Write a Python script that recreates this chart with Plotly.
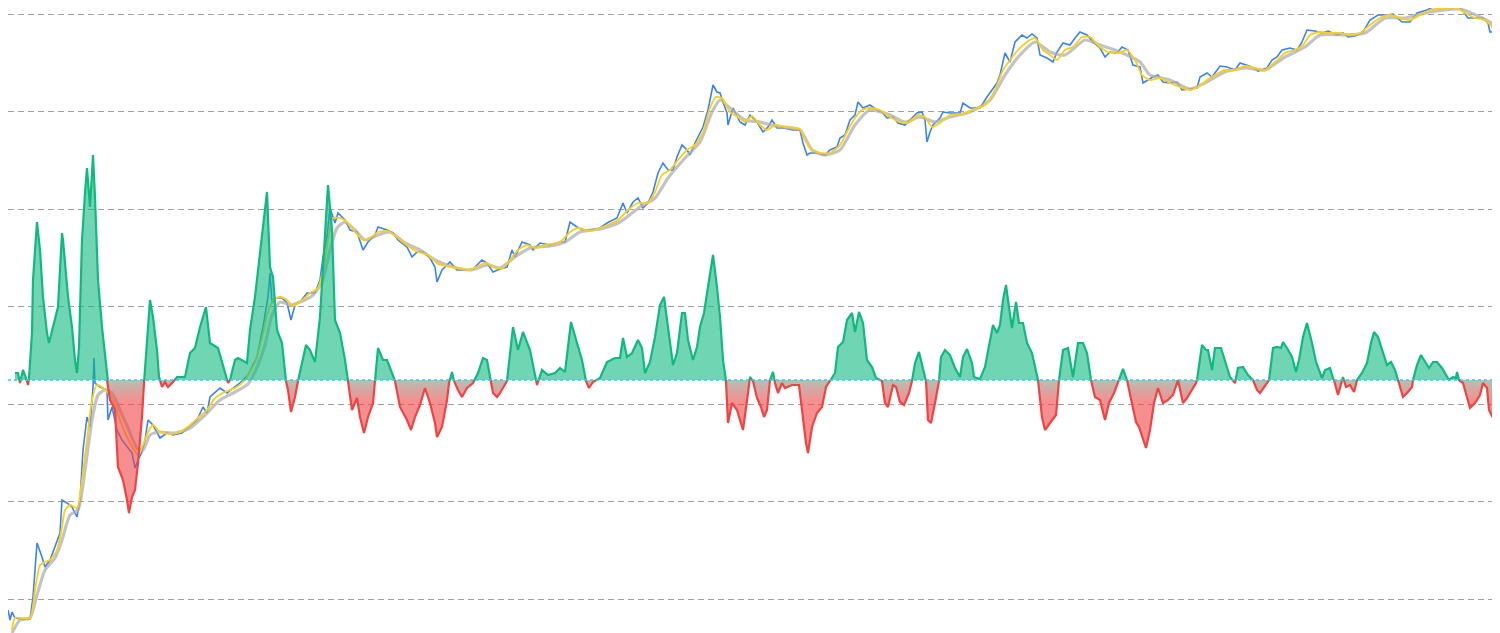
import plotly.graph_objects as go

# ---------------- data ----------------
price_x = [8, 10, 12, 15, 22, 30, 33, 35, 37, 42, 45, 50, 55, 60, 62, 67, 72, 77, 80, 82, 83, 87, 90, 93, 94, 95,
           100, 107, 108, 112, 117, 122, 127, 132, 135, 138, 142, 145, 148, 153, 160, 167, 173, 182, 188, 197, 203,
           207, 210, 220, 227, 233, 240, 248, 257, 263, 268, 270, 272, 275, 282, 287, 291, 295, 300, 307, 315, 320,
           323, 327, 330, 335, 338, 345, 350, 357, 363, 368, 375, 378, 387, 393, 398, 407, 412, 417, 423, 430, 435,
           437, 442, 450, 457, 467, 473, 482, 487, 493, 500, 507, 512, 515, 522, 530, 533, 540, 550, 560, 565, 570,
           577, 583, 590, 600, 607, 617, 623, 627, 633, 638, 643, 648, 653, 658, 663, 668, 673, 677, 682, 687, 690,
           695, 700, 703, 708, 713, 717, 720, 723, 727, 728, 733, 740, 745, 750, 757, 763, 768, 772, 777, 783, 793,
           800, 803, 807, 810, 817, 825, 830, 837, 840, 845, 850, 855, 858, 863, 870, 877, 882, 887, 893, 898, 905,
           910, 917, 922, 925, 927, 930, 933, 940, 943, 950, 960, 963, 970, 980, 987, 992, 997, 1000, 1005, 1010,
           1015, 1022, 1027, 1032, 1037, 1040, 1047, 1053, 1057, 1063, 1070, 1075, 1080, 1087, 1093, 1100, 1105,
           1110, 1117, 1122, 1128, 1133, 1140, 1143, 1148, 1153, 1158, 1163, 1170, 1177, 1182, 1188, 1197, 1200,
           1207, 1212, 1220, 1227, 1235, 1240, 1247, 1252, 1258, 1267, 1272, 1277, 1282, 1290, 1297, 1302, 1307,
           1315, 1322, 1328, 1337, 1343, 1348, 1355, 1363, 1370, 1378, 1387, 1393, 1402, 1410, 1417, 1427, 1433,
           1443, 1450, 1457, 1462, 1468, 1477, 1483, 1488, 1490, 1495]
price_y = [23, 13, 21, 15, 14, 14, 36, 60, 90, 76, 66, 73, 86, 100, 133, 130, 126, 116, 133, 160, 183, 216, 206, 246,
           275, 250, 246, 243, 213, 226, 203, 193, 186, 180, 165, 173, 181, 193, 213, 208, 195, 200, 198, 200, 205,
           213, 226, 220, 236, 245, 240, 245, 250, 258, 276, 306, 336, 360, 330, 335, 335, 330, 313, 328, 331, 340,
           340, 353, 376, 396, 425, 410, 420, 413, 403, 401, 383, 391, 398, 406, 403, 400, 393, 386, 376, 381, 381,
           375, 366, 351, 363, 371, 363, 363, 364, 373, 370, 361, 364, 366, 383, 376, 391, 388, 383, 390, 388, 391,
           391, 411, 406, 403, 403, 405, 410, 415, 430, 420, 431, 435, 425, 430, 441, 460, 470, 463, 463, 476, 488,
           483, 478, 490, 500, 506, 523, 548, 541, 540, 531, 520, 508, 525, 511, 508, 518, 511, 501, 506, 513, 505,
           505, 503, 503, 490, 478, 480, 480, 478, 483, 486, 495, 498, 513, 518, 531, 525, 528, 523, 521, 515, 516,
           510, 508, 513, 520, 521, 513, 491, 501, 508, 515, 521, 520, 520, 530, 525, 525, 536, 543, 550, 558, 580,
           571, 591, 598, 595, 599, 595, 578, 575, 571, 581, 590, 588, 595, 601, 598, 591, 585, 576, 581, 580, 586,
           583, 568, 566, 550, 553, 556, 558, 551, 550, 551, 543, 544, 545, 556, 560, 556, 567, 566, 563, 570, 568,
           566, 562, 565, 573, 576, 583, 585, 583, 591, 603, 602, 600, 602, 598, 600, 596, 597, 601, 613, 618, 618,
           619, 611, 611, 620, 623, 626, 625, 625, 627, 623, 615, 615, 615, 610, 601, 601]

ma_fast_x = [12, 15, 30, 35, 40, 45, 50, 57, 62, 65, 70, 77, 82, 87, 92, 97, 103, 110, 115, 120, 127, 133, 138, 143,
             148, 153, 160, 170, 180, 190, 200, 207, 215, 225, 235, 245, 255, 262, 268, 273, 280, 287, 293, 300, 310,
             318, 323, 328, 333, 340, 347, 355, 363, 370, 378, 388, 398, 408, 418, 428, 438, 447, 457, 470, 480, 487,
             495, 503, 510, 518, 527, 535, 545, 560, 570, 578, 590, 605, 618, 628, 638, 648, 655, 662, 670, 678, 687,
             695, 703, 710, 716, 722, 730, 738, 745, 752, 760, 767, 775, 785, 800, 805, 810, 820, 830, 840, 848, 855,
             862, 870, 880, 890, 900, 908, 918, 925, 932, 940, 950, 962, 972, 985, 995, 1003, 1010, 1018, 1027, 1035,
             1043, 1050, 1057, 1065, 1073, 1082, 1090, 1100, 1108, 1118, 1127, 1135, 1142, 1150, 1160, 1170, 1180,
             1190, 1198, 1207, 1215, 1225, 1235, 1245, 1255, 1265, 1275, 1285, 1295, 1303, 1310, 1320, 1330, 1340,
             1350, 1360, 1370, 1380, 1390, 1400, 1410, 1420, 1430, 1445, 1457, 1465, 1475, 1485, 1493]
ma_fast_y = [3, 15, 15, 43, 68, 71, 73, 83, 106, 123, 128, 125, 153, 193, 233, 248, 245, 238, 228, 213, 196, 185,
             178, 188, 201, 208, 201, 199, 201, 208, 217, 223, 235, 241, 245, 253, 271, 295, 321, 333, 336, 333, 327,
             331, 340, 345, 363, 393, 415, 415, 411, 401, 393, 395, 401, 402, 395, 387, 381, 378, 369, 367, 365, 363,
             368, 370, 365, 365, 373, 383, 388, 385, 388, 391, 401, 405, 402, 407, 413, 423, 430, 430, 441, 458, 463,
             473, 483, 488, 501, 525, 536, 535, 521, 516, 511, 517, 508, 503, 508, 506, 504, 493, 485, 480, 480, 488,
             503, 515, 523, 525, 523, 516, 511, 510, 518, 516, 506, 510, 518, 519, 523, 528, 543, 563, 573, 583, 591,
             595, 583, 578, 573, 583, 586, 596, 596, 586, 581, 580, 583, 573, 558, 553, 555, 550, 546, 543, 546, 553,
             558, 563, 563, 567, 565, 563, 571, 580, 583, 588, 598, 601, 600, 600, 598, 600, 608, 615, 618, 615, 613,
             618, 623, 625, 625, 620, 615, 613, 605]

ma_slow_x = [12, 20, 30, 37, 45, 55, 62, 70, 78, 85, 92, 98, 105, 112, 120, 128, 137, 143, 150, 160, 175, 190, 205,
             220, 235, 248, 258, 265, 272, 280, 290, 300, 312, 322, 330, 337, 345, 355, 365, 378, 390, 405, 420, 435,
             450, 470, 488, 500, 515, 530, 550, 565, 580, 600, 620, 640, 655, 668, 685, 700, 712, 720, 730, 745, 760,
             775, 800, 812, 825, 840, 855, 870, 890, 905, 920, 935, 950, 970, 990, 1005, 1020, 1035, 1050, 1065, 1085,
             1100, 1120, 1140, 1150, 1170, 1190, 1205, 1225, 1245, 1265, 1285, 1305, 1320, 1345, 1365, 1385, 1405,
             1430, 1460, 1480, 1495]
ma_slow_y = [0, 13, 15, 38, 63, 75, 93, 118, 123, 163, 213, 238, 243, 240, 223, 205, 185, 183, 198, 201, 200, 205,
             218, 233, 241, 249, 268, 288, 318, 331, 328, 331, 337, 351, 383, 405, 411, 403, 393, 398, 401, 390, 383,
             373, 367, 363, 368, 365, 376, 385, 387, 391, 401, 404, 411, 426, 435, 455, 475, 491, 521, 533, 525, 513,
             511, 507, 503, 483, 478, 483, 508, 523, 518, 511, 516, 511, 516, 521, 533, 558, 578, 591, 581, 578, 593,
             588, 581, 571, 558, 553, 544, 550, 561, 565, 563, 576, 586, 598, 598, 600, 615, 615, 621, 624, 616, 608]

osc_x = [15, 18, 20, 23, 26, 28, 29, 32, 33, 37, 40, 43, 47, 49, 53, 58, 62, 63, 68, 72, 75, 77, 79, 82, 85, 87, 90,
         93, 95, 98, 102, 105, 107, 110, 115, 118, 123, 127, 129, 132, 135, 138, 142, 144, 147, 150, 153, 157, 159,
         162, 165, 168, 173, 177, 185, 190, 195, 200, 206, 210, 218, 223, 228, 230, 235, 238, 247, 250, 255, 260,
         265, 267, 270, 273, 277, 282, 286, 288, 291, 295, 298, 303, 306, 310, 315, 320, 325, 328, 332, 335, 340,
         345, 348, 352, 357, 360, 364, 368, 373, 375, 378, 383, 387, 392, 395, 400, 407, 411, 415, 420, 425, 430,
         435, 437, 442, 447, 449, 452, 454, 458, 462, 467, 473, 478, 483, 487, 491, 493, 497, 500, 507, 513, 518,
         523, 530, 536, 537, 542, 548, 555, 560, 565, 571, 577, 582, 586, 589, 593, 600, 607, 615, 620, 623, 627,
         632, 638, 642, 645, 650, 655, 660, 664, 668, 673, 677, 682, 685, 688, 693, 697, 700, 704, 708, 713, 717,
         720, 723, 726, 728, 732, 737, 743, 748, 750, 753, 757, 761, 764, 767, 770, 773, 775, 778, 782, 785, 792,
         799, 803, 806, 808, 812, 817, 822, 826, 830, 835, 838, 843, 847, 852, 855, 859, 863, 867, 872, 876, 882,
         885, 888, 893, 896, 900, 904, 909, 912, 915, 919, 923, 926, 928, 931, 935, 939, 941, 945, 950, 955, 960,
         963, 967, 972, 974, 980, 985, 990, 993, 997, 1000, 1003, 1006, 1008, 1012, 1016, 1019, 1023, 1027, 1032,
         1035, 1038, 1042, 1045, 1050, 1056, 1059, 1063, 1068, 1073, 1078, 1083, 1087, 1091, 1095, 1100, 1105,
         1109, 1114, 1118, 1123, 1127, 1132, 1136, 1139, 1144, 1146, 1150, 1154, 1158, 1163, 1168, 1173, 1178,
         1183, 1187, 1192, 1196, 1197, 1202, 1206, 1208, 1212, 1215, 1221, 1225, 1230, 1235, 1238, 1243, 1248,
         1253, 1257, 1260, 1267, 1269, 1273, 1277, 1281, 1283, 1287, 1292, 1296, 1299, 1303, 1307, 1312, 1316,
         1322, 1325, 1330, 1334, 1338, 1342, 1343, 1346, 1350, 1354, 1357, 1362, 1367, 1371, 1374, 1378, 1382,
         1387, 1391, 1395, 1398, 1403, 1407, 1412, 1413, 1417, 1421, 1425, 1429, 1433, 1437, 1442, 1447, 1449,
         1453, 1456, 1457, 1459, 1463, 1467, 1470, 1475, 1480, 1483, 1487, 1489, 1493]
osc_y = [7, 7, -3, 10, 2, -5, 2, 47, 100, 158, 130, 83, 47, 37, 53, 73, 147, 140, 83, 53, 20, 7, 33, 140, 187, 212,
         173, 225, 183, 100, 53, 23, 0, -20, -30, -87, -100, -120, -133, -117, -110, -83, -37, -3, 40, 80, 63, 30, 3,
         -7, -2, -7, -2, 3, 3, 27, 32, 53, 73, 37, 32, 13, -3, 0, 20, 22, 17, 50, 83, 127, 167, 188, 113, 103, 50,
         37, -1, -10, -32, -17, -1, 23, 35, 30, 18, 63, 143, 195, 150, 60, 47, 20, -1, -30, -18, -37, -53, -37, -23,
         -1, 32, 20, 20, 7, -1, -27, -40, -50, -37, -25, -8, -23, -43, -57, -47, -20, -3, 8, -1, -10, -17, -8, -3,
         7, 22, 20, -1, -13, -17, -13, -1, 53, 30, 48, 30, -1, -5, 10, 5, 7, 12, 8, 58, 37, 20, -1, -8, -2, 2, 18,
         22, 22, 42, 23, 27, 40, 32, 7, 18, 43, 75, 83, 53, 15, 27, 67, 67, 40, 20, 33, 53, 67, 93, 125, 93, 63, 20,
         -1, -43, -23, -30, -50, -13, 3, -1, -18, -27, -37, -30, 0, 8, -3, -13, -3, -8, -5, -5, -40, -63, -73, -47,
         -33, -27, -7, -1, 7, 33, 38, 60, 67, 48, 68, 57, 20, 13, 2, -1, -23, -27, -5, -7, -22, -25, -13, -1, 17,
         28, 13, -1, -40, -43, -23, -1, 23, 30, 25, 12, 3, 23, 31, 17, 3, 1, 13, 40, 55, 47, 55, 80, 95, 80, 52, 78,
         57, 57, 37, 27, 13, 0, -37, -50, -43, -35, 0, 30, 32, 3, 37, 37, 27, 0, -17, -20, -40, -23, -13, -3, 11, 0,
         -23, -42, -47, -63, -68, -50, -23, -8, -23, -20, -15, 0, -23, -18, -10, -3, 0, 35, 30, 30, 10, 32, 32, 20,
         3, -3, 12, 13, 5, 0, -10, -13, -2, 0, 32, 33, 32, 38, 32, 23, 8, 20, 43, 57, 37, 18, 2, 10, 12, 0, -15, 0,
         3, -7, -5, -12, 0, 7, 17, 37, 48, 43, 30, 15, 18, 10, 0, -17, -13, -7, 0, 15, 25, 18, 12, 18, 18, 12, 3, 0,
         3, 2, 8, 0, -3, -17, -28, -23, -15, -3, -8, -30, -38]

# ---------------- figure ----------------
GREEN = "rgb(16,185,129)"
GREEN_FILL = "rgba(16,185,129,0.6)"
RED = "rgb(239,68,68)"

fig = go.Figure()

# price and moving averages (axis y)
fig.add_trace(go.Scatter(x=price_x, y=price_y, mode="lines", yaxis="y",
                         line=dict(color="#3b82f6", width=1.6), hoverinfo="skip", showlegend=False))
fig.add_trace(go.Scatter(x=ma_slow_x, y=ma_slow_y, mode="lines", yaxis="y",
                         line=dict(color="rgba(175,175,175,0.75)", width=3.2, shape="spline", smoothing=0.6),
                         hoverinfo="skip", showlegend=False))
fig.add_trace(go.Scatter(x=ma_fast_x, y=ma_fast_y, mode="lines", yaxis="y",
                         line=dict(color="#fcd012", width=1.8, shape="spline", smoothing=0.6),
                         hoverinfo="skip", showlegend=False))

# oscillator: positive part (clipped by its axis domain)
fig.add_trace(go.Scatter(x=osc_x, y=osc_y, mode="lines", yaxis="y2", fill="tozeroy",
                         fillcolor=GREEN_FILL, line=dict(color=GREEN, width=2.2),
                         hoverinfo="skip", showlegend=False))
# oscillator: negative part
fig.add_trace(go.Scatter(x=osc_x, y=osc_y, mode="lines", yaxis="y3", fill="tozeroy",
                         fillgradient=dict(type="vertical", start=-22, stop=0,
                                           colorscale=[[0, "rgba(239,68,68,0.6)"],
                                                       [1, "rgba(150,165,150,0.7)"]]),
                         line=dict(color=RED, width=2.2),
                         hoverinfo="skip", showlegend=False))
# zero line
fig.add_trace(go.Scatter(x=[price_x[0], price_x[-1]], y=[0, 0], mode="lines", yaxis="y4",
                         line=dict(color="#22d3ee", width=1.6, dash="dot"),
                         hoverinfo="skip", showlegend=False))

# the page has an 8px body margin, so the figure covers page pixels 8..1500 x 8..633
FIG_W, FIG_H = 1492, 625
zero_frac = 253 / FIG_H
fig.update_layout(
    width=FIG_W, height=FIG_H,
    margin=dict(l=0, r=0, t=0, b=0),
    paper_bgcolor="white", plot_bgcolor="rgba(0,0,0,0)",
    showlegend=False,
    xaxis=dict(range=[8, 1500], showgrid=False, zeroline=False, showticklabels=False,
               showline=False, ticks=""),
    yaxis=dict(range=[0, 625], tick0=34, dtick=97.5, showgrid=True, gridcolor="#a0a0a0",
               gridwidth=1, griddash="6px,4px", zeroline=False, showticklabels=False,
               showline=False, ticks="", domain=[0, 1]),
    yaxis2=dict(range=[0, 372], domain=[zero_frac, 1], anchor="x", visible=False, showgrid=False),
    yaxis3=dict(range=[-253, 0], domain=[0, zero_frac], anchor="x", visible=False, showgrid=False),
    yaxis4=dict(range=[-253, 372], domain=[0, 1], anchor="x", visible=False, showgrid=False),
)

fig.write_html("out.html")
